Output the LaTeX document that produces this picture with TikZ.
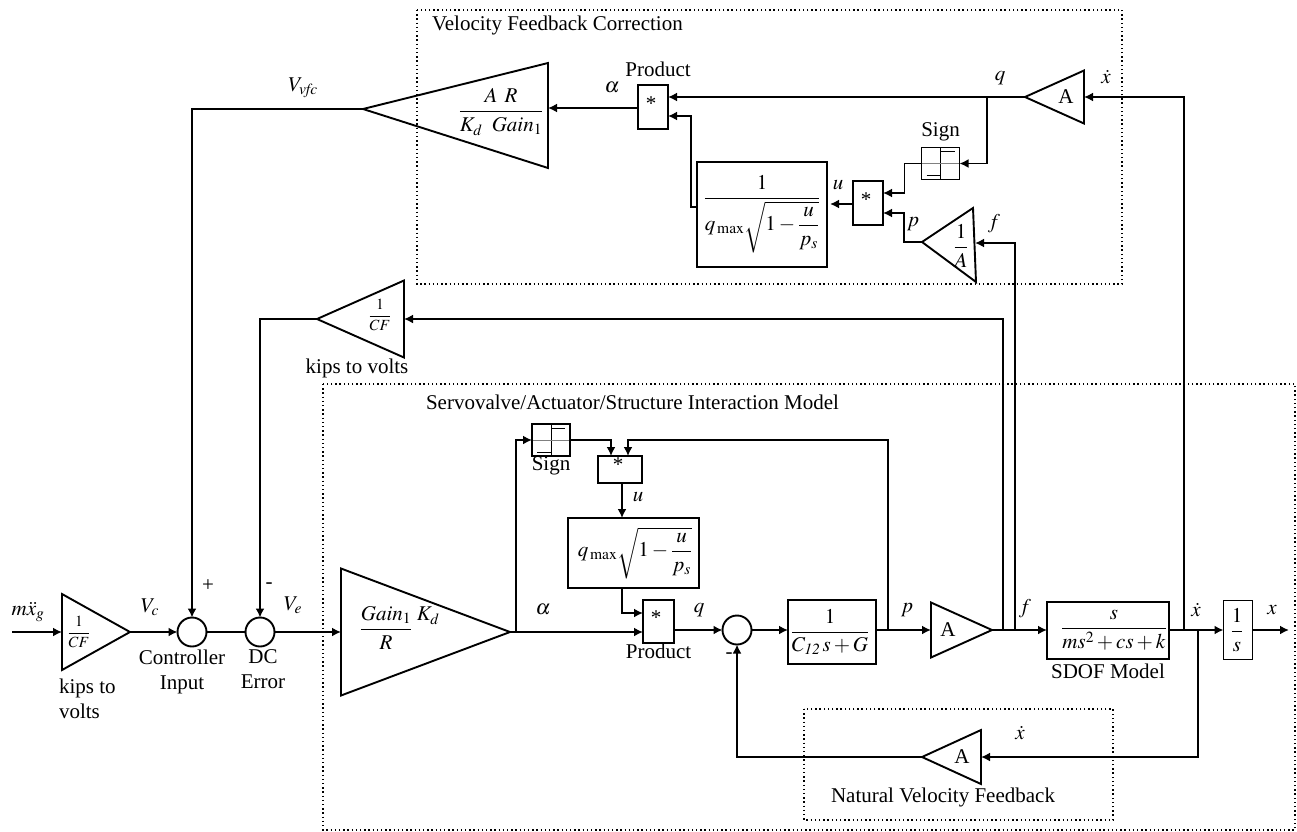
\documentclass[tikz,border=0pt]{standalone}
\usepackage{amsmath}
\usepackage{mathptmx}
\usepackage[no-math]{fontspec}
\setmainfont{Liberation Serif}
\usepackage{tikz}
\usetikzlibrary{positioning,arrows.meta,calc,shapes.geometric}

\begin{document}
\begin{tikzpicture}[
  x=1pt,y=-1pt,
  every node/.style={font=\fontsize{21}{25}\selectfont,inner sep=0pt,outer sep=0pt},
  ln/.style={line width=1.8pt,line join=miter},
  fl/.style={ln,-{Latex[length=9pt,width=9pt]}},
  blk/.style={draw,line width=1.9pt,rectangle},
  tri/.style={draw,line width=1.9pt,isosceles triangle,isosceles triangle stretches,anchor=lower side},
  tril/.style={tri,shape border rotate=180},
  som/.style={draw,line width=1.9pt,circle,minimum size=29pt},
  zone/.style={line width=1.2pt,dash pattern=on 1.4pt off 2.8pt},
  signb/.style={blk,minimum width=38pt,minimum height=32pt,path picture={
    \draw[line width=1pt] (path picture bounding box.north)--(path picture bounding box.south);
    \draw[line width=1pt,gray] (path picture bounding box.west)--(path picture bounding box.east);
    \draw[line width=1pt] ($(path picture bounding box.south)+(-14pt,4pt)$)--($(path picture bounding box.south)+(0,4pt)$);
    \draw[line width=1pt] ($(path picture bounding box.north)+(0,-4pt)$)--($(path picture bounding box.north)+(14pt,-4pt)$);}},
  small/.style={font=\fontsize{15.5}{18}\selectfont}
]
\useasboundingbox (0,0) rectangle (1297,831);
% dotted regions
\draw[zone] (417,10) rectangle (1122,284);
\draw[zone] (323,384) rectangle (1295,830);
\draw[zone] (804,709) rectangle (1113,820);
\node[anchor=west] (vfctitle) at (432,25) {Velocity Feedback Correction};
\node[anchor=west] (servotitle) at (426,402) {Servovalve/Actuator/Structure Interaction Model};
\node (nvftitle) at (943,797) {Natural Velocity Feedback};

% input side
\coordinate (in) at (12,632);
\node[tri,minimum height=68pt,minimum width=76pt] (kips) at (62,632) {};
\node[small] (kipsf) at (79,632) {$\dfrac{1}{CF}$};
\node[som] (sumc) at (192,632) {};
\node[som] (sumd) at (260,632) {};
\node[tri,minimum height=169pt,minimum width=127pt] (gain) at (341,632) {};
\node (gainf) at (386,628) {$\dfrac{Gain_1\rlap{\;$K_d$}}{R}$};
\draw[fl] (in) -- (kips.lower side);
\draw[fl] (kips.apex) -- (sumc);
\draw[ln] (sumc) -- (sumd);
\draw[fl] (sumd) -- (gain.lower side);
\node (lmx) at (28,612) {$m\ddot{x}_g$};
\node (lvc) at (150,607) {$V_c$};
\node (lve) at (293,605) {$V_e$};
\node (lplus) at (208,586) {+};
\node (lminus) at (269,586) {-};
\node[align=left,anchor=north west] (lkips) at (59,679) {kips to\\volts};
\node[align=center,anchor=north] (lctrl) at (182,650) {Controller\\Input};
\node[align=center,anchor=north] (ldc) at (263,650) {DC\\Error};

% servovalve model
\coordinate (jalpha) at (516,632);
\node[signb] (sign2) at (551,440) {};
\node[below=1pt of sign2] (lsign2) {Sign};
\node[blk,minimum width=44pt,minimum height=27pt] (mul2) at (620,469.5) {};
\node (star2) at (618,465) {*};
\node[blk,minimum width=131pt,minimum height=70pt] (root2) at (633.5,553) {};
\node (rootf2) at (635,553) {$q_{\,\max}\sqrt{1-\dfrac{u}{p_s}}$};
\node[blk,minimum width=31pt,minimum height=43pt] (prod2) at (658.5,621.5) {};
\node (star3) at (656,618) {*};
\node[below=1pt of prod2] (lprod2) {Product};
\node[som] (sumq) at (737,630) {};
\node[blk,minimum width=88pt,minimum height=64pt] (valve) at (832,632) {};
\node (valvef) at (830,632) {$\dfrac{1}{C_{\mathit{12}}\,s+G}$};
\node[tri,minimum height=61pt,minimum width=55pt] (aout) at (931,630) {};
\node (aoutl) at (948,630) {A};
\node[blk,minimum width=122pt,minimum height=57pt] (sdof) at (1108,630.5) {};
\node (sdoff) at (1114,630) {$\dfrac{s}{ms^2+cs+k}$};
\node[below=5pt of sdof] (lsdof) {SDOF Model};
\node[blk,minimum width=29pt,minimum height=59pt] (integ) at (1238,630) {};
\node (integf) at (1237,630) {$\dfrac{1}{s}$};
\coordinate (jp) at (888,630);
\coordinate (jf1) at (1003,629);
\coordinate (jf2) at (1015,629);
\coordinate (jv1) at (1184,630);
\coordinate (jv2) at (1198,630);
\coordinate (outx) at (1289,630);
\draw[ln] (gain.apex) -- (jalpha);
\draw[fl] (jalpha) -- (jalpha -| prod2.west);
\draw[fl] (jalpha) |- (sign2.west);
\draw[fl] (sign2.east) -| ($(mul2.north)+(-9pt,0)$);
\draw[fl] (jp) |- (628,440) -- ($(mul2.north)+(8pt,0)$);
\draw[fl] (622,483) -- (622,518);
\draw[fl] (622,588) |- (prod2.west |- 0,613);
\draw[fl] (prod2.east |- sumq) -- (sumq);
\draw[fl] (sumq) -- (valve.west |- sumq);
\draw[ln] (valve.east |- jp) -- (jp);
\draw[fl] (jp) -- (aout.lower side);
\draw[fl] (aout.apex) -- (sdof.west |- aout.apex);
\draw[ln] (sdof.east |- jv1) -- (jv1);
\draw[fl] (jv1) -- (integ.west |- jv1);
\draw[fl] (integ.east) -- (outx);
\node (lalpha2) at (543,609) {$\alpha$};
\node (lu2) at (638,497) {$u$};
\node (lq2) at (699,610) {$q$};
\node (lp2) at (907,610) {$p$};
\node (lf2) at (1025,609) {$f$};
\node (lxd2) at (1196,610) {$\dot{x}$};
\node (lx2) at (1272,610) {$x$};

% natural feedback
\node[tril,minimum height=59pt,minimum width=54pt] (anat) at (981,757) {};
\node (anatl) at (962,757) {A};
\draw[fl] (jv2) |- (anat.lower side);
\draw[fl] (anat.apex) -| (sumq);
\node (lminusq) at (729,656) {-};
\node (lxd3) at (1020,733) {$\dot{x}$};

% upper return paths
\node[tril,minimum height=87pt,minimum width=77pt] (cfup) at (404,319) {};
\node[small] (cfupf) at (380,315) {$\dfrac{1}{CF}$};
\node (lkipsup) at (357,368) {kips to volts};
\draw[fl] (jf1) |- (cfup.lower side);
\draw[fl] (cfup.apex) -| (sumd);

% velocity feedback correction
\node[tril,minimum height=59pt,minimum width=53pt] (aup) at (1084,97) {};
\node (aupl) at (1066,97) {A};
\coordinate (jq) at (987,97);
\node[signb] (sign1) at (940.5,163.5) {};
\node[above=6pt of sign1] (lsign1) {Sign};
\node[blk,minimum width=30pt,minimum height=44pt] (mul1) at (868,203) {};
\node (star1) at (866,200) {*};
\node[blk,minimum width=130pt,minimum height=105pt] (root1) at (762,214.5) {};
\node (rootf1) at (762,214) {$\dfrac{1}{q_{\,\max}\sqrt{1-\dfrac{u}{p_s}}}$};
\node[blk,minimum width=30pt,minimum height=44pt] (prod1) at (653,107) {};
\node (star4) at (651,104) {*};
\node[above=8pt of prod1,xshift=5pt] (lprod1) {Product};
% these two triangles lean
\coordinate (vfcapex) at (363,109);
\coordinate (vfcbase) at (548,108);
\draw[line width=1.9pt] (vfcapex) -- (548,63) -- (548,168) -- cycle;
\node (vfcf) at (501,112) {$\dfrac{A\;\,R}{K_d\;\;Gain_1}$};
\coordinate (aiapex) at (922,242);
\coordinate (aibase) at (975,243);
\draw[line width=1.9pt] (aiapex) -- (973,208) -- (976,282) -- cycle;
\node (aif) at (961,246) {$\dfrac{1}{A}$};

\draw[fl] (jv1) |- (aup.lower side);
\draw[ln] (aup.apex) -- (jq);
\draw[fl] (jq) -- (jq -| prod1.east);
\draw[fl] (jq) |- (sign1.east);
\draw[fl] (sign1.west) -- ++(-17pt,0) |- (mul1.east |- 0,193);
\draw[fl] (aiapex) -- ++(-18pt,0) |- (mul1.east |- 0,213);
\draw[fl] (jf2) |- (aibase);
\draw[fl] (mul1.west |- 0,204) -- (830,204);
\draw[fl] (root1.west |- 0,207) -- ++(-6pt,0) |- (prod1.east |- 0,116);
\draw[fl] (prod1.west |- vfcbase) -- (vfcbase);
\draw[fl] (vfcapex) -| (sumc);
\node (lvfc) at (303,88) {$V_{\mathit{vfc}}$};
\node (lalpha1) at (612,87) {$\alpha$};
\node (lq1) at (1000,78) {$q$};
\node (lxd1) at (1106,77) {$\dot{x}$};
\node (lu1) at (838,185) {$u$};
\node (lp1) at (913,224) {$p$};
\node (lf1) at (994,224) {$f$};
\end{tikzpicture}
\end{document}
